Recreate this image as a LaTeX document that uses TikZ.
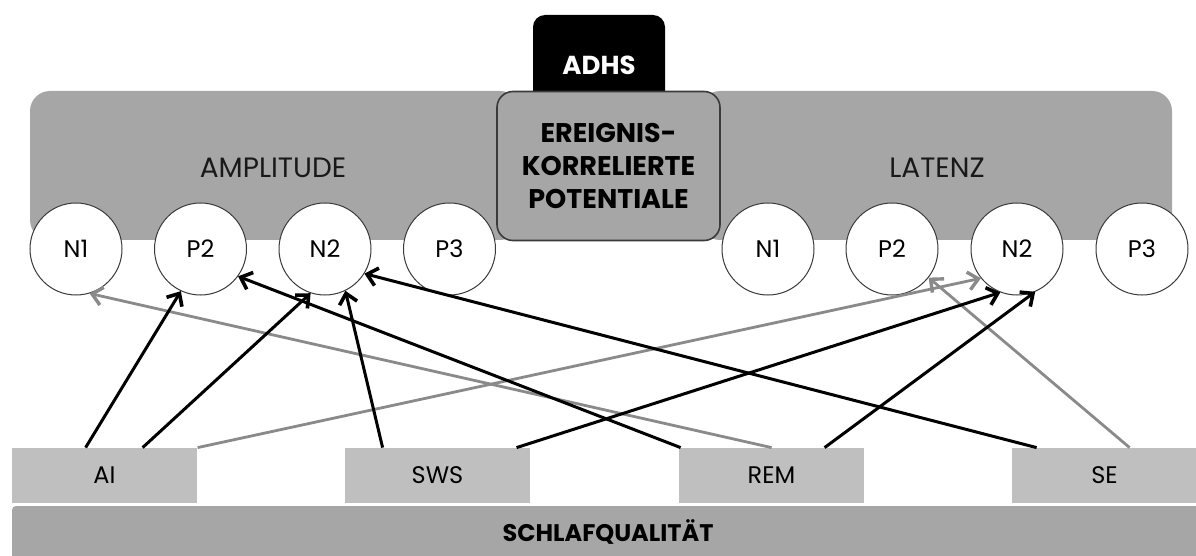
\documentclass[tikz,border=0pt]{standalone}
\usepackage{fontspec}
\setmainfont{Poppins}
\usetikzlibrary{arrows.meta,calc}
\definecolor{boxgray}{HTML}{A6A6A6}
\definecolor{lightgray}{HTML}{BFBFBF}
\definecolor{arrgray}{HTML}{8A8A8A}
\definecolor{rimgray}{HTML}{3A3A3A}
\tikzset{
  bigbox/.style={fill=boxgray, draw=none, rounded corners=10pt, inner sep=0pt},
  boxlabel/.style={font=\fontsize{14}{16}\selectfont, text=black!90},
  ekpbox/.style={fill=boxgray, draw=rimgray, line width=0.8pt, rounded corners=8pt,
    inner sep=0pt, align=center, font=\bfseries\fontsize{13.5}{16.5}\selectfont,
    minimum width=111.5pt, minimum height=74.5pt},
  adhsbox/.style={fill=black, draw=none, rounded corners=6pt, inner sep=0pt,
    text=white, font=\bfseries\fontsize{13}{15}\selectfont,
    minimum width=66pt, minimum height=50pt},
  erp/.style={circle, fill=white, draw=rimgray, line width=0.5pt, inner sep=0pt,
    minimum size=46pt, font=\fontsize{12}{14}\selectfont},
  sleepbox/.style={fill=lightgray, draw=none, inner sep=0pt,
    minimum width=92.5pt, minimum height=27.5pt, font=\fontsize{12}{14}\selectfont},
  barbox/.style={fill=boxgray, draw=none, rounded corners=2pt, inner sep=0pt,
    minimum width=596pt, minimum height=28pt},
  blk/.style={draw=black, line width=1.5pt, -{Straight Barb[length=5pt,width=9pt,line width=1.8pt]}},
  gry/.style={draw=arrgray, line width=1.4pt, -{Straight Barb[length=5pt,width=9pt,line width=1.7pt]}},
}
\begin{document}
\begin{tikzpicture}[x=0.5pt,y=-0.5pt]
\useasboundingbox (0,0) rectangle (1196,556);
% top boxes
\node[bigbox, minimum width=245pt, minimum height=74.5pt] (amp) at (275,165.5) {};
\node[boxlabel] (amplabel) at (273,168) {AMPLITUDE};
\node[bigbox, minimum width=236pt, minimum height=74.5pt] (lat) at (936,165.5) {};
\node[boxlabel] (latlabel) at (937,168) {LATENZ};
\node[adhsbox] (adhs) at (599,65) {ADHS};
\node[ekpbox] (ekp) at (608.5,166) {EREIGNIS-\\KORRELIERTE\\POTENTIALE};
% circles
\node[erp] (aN1) at (76,249) {N1};
\node[erp] (aP2) at (200.5,249) {P2};
\node[erp] (aN2) at (325,249) {N2};
\node[erp] (aP3) at (449.5,249) {P3};
\node[erp] (lN1) at (768,249) {N1};
\node[erp] (lP2) at (892,249) {P2};
\node[erp] (lN2) at (1017,249) {N2};
\node[erp] (lP3) at (1142,249) {P3};
% sleep boxes
\node[sleepbox] (AI) at (104.5,475.5) {AI};
\node[sleepbox] (SWS) at (437.5,475.5) {SWS};
\node[sleepbox] (REM) at (771.5,475.5) {REM};
\node[sleepbox] (SE) at (1104.5,475.5) {SE};
\node[barbox] (bar) at (608,534) {};
\node[font=\bfseries\fontsize{12}{14}\selectfont] (barlabel) at (608,532) {SCHLAFQUALITÄT};
% start points
\coordinate (a1) at ($(AI.north west)+(74,0)$);
\coordinate (a2) at ($(AI.north west)+(131,0)$);
\coordinate (a3) at ($(AI.north west)+(186,0)$);
\coordinate (s1) at ($(SWS.north west)+(38,0)$);
\coordinate (s2) at ($(SWS.north west)+(172,0)$);
\coordinate (r1) at ($(REM.north west)+(2,0)$);
\coordinate (r2) at ($(REM.north west)+(93,0)$);
\coordinate (r3) at ($(REM.north west)+(146,0)$);
\coordinate (e1) at ($(SE.north west)+(25,0)$);
\coordinate (e2) at ($(SE.north west)+(118,0)$);
% gray arrows
\draw[gry] (r2) -- (aN1.287);
\draw[gry] (a3) -- (lN2.219);
\draw[gry] (e2) -- (lP2.322);
% black arrows
\draw[blk] (a1) -- (aP2.245);
\draw[blk] (a2) -- (aN2.252);
\draw[blk] (s1) -- (aN2.296);
\draw[blk] (r1) -- (aP2.324);
\draw[blk] (e1) -- (aN2.328);
\draw[blk] (s2) -- (lN2.249);
\draw[blk] (r3) -- (lN2.293);
\end{tikzpicture}
\end{document}
